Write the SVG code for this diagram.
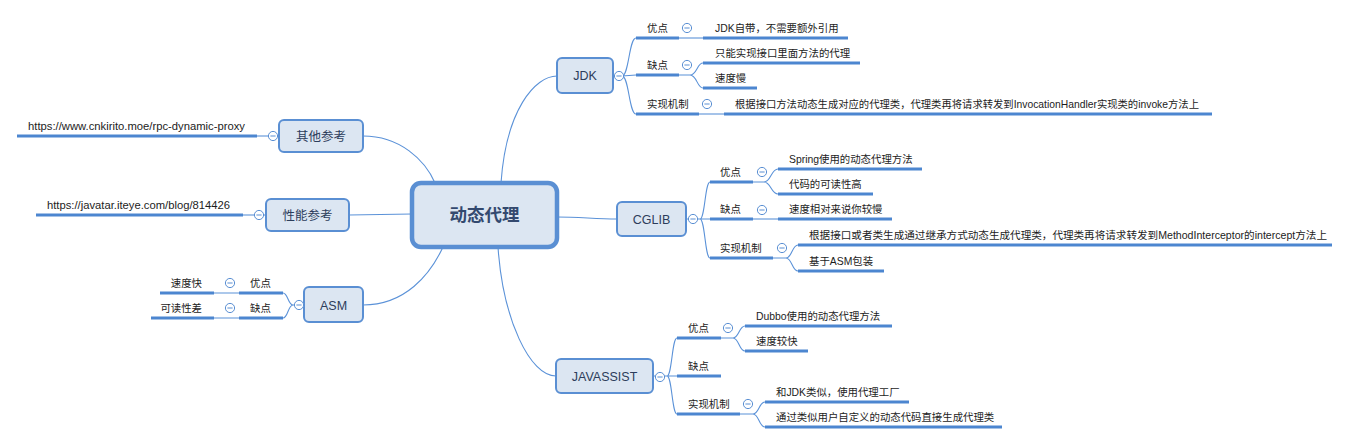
<svg xmlns="http://www.w3.org/2000/svg" xmlns:xlink="http://www.w3.org/1999/xlink" width="1350" height="444" viewBox="0 0 1350 444">
<style>
  .ln{fill:none;stroke:#5b92d8;stroke-width:1.1}
  .ul{fill:none;stroke:#4c86d0;stroke-width:3}
  .node{fill:#dce6f2;stroke:#5a8fd3;stroke-width:2}
  .main{fill:#dce6f2;stroke:#5a8fd3;stroke-width:4.5}
  .t{font-family:"Liberation Sans","Noto Sans CJK SC",sans-serif;font-size:10.4px;fill:#1c1c1c}
  .nt{font-family:"Liberation Sans","Noto Sans CJK SC",sans-serif;font-size:12.5px;fill:#2c3d5b;text-anchor:middle}
  .mt{font-family:"Liberation Sans","Noto Sans CJK SC",sans-serif;font-size:17.5px;font-weight:bold;fill:#33496f;text-anchor:middle}
  .e{text-anchor:end}
  .c circle{fill:#fff;stroke:#5a8fd3;stroke-width:1}
  .c line{stroke:#5a8fd3;stroke-width:1}
</style>
<defs>
  <g id="m" class="c"><circle cx="0" cy="0" r="4.6"/><line x1="-2.6" y1="0" x2="2.6" y2="0"/></g>
</defs>
<rect width="1350" height="444" fill="#fff"/>

<g id="connectors">
  <path class="ln" d="M501,183 C506,110 535,76 557,76"/>
  <path class="ln" d="M557,217 C580,217 595,219 617,219"/>
  <path class="ln" d="M498,247 C503,320 530,376 556,376"/>
  <path class="ln" d="M435,183 C425,160 400,136 363,136"/>
  <path class="ln" d="M412,214 L349,215"/>
  <path class="ln" d="M443,247 C430,275 405,305 363,305"/>

  <path class="ln" d="M613,76 L622,76 C629,76 629,38 636,38 M622,76 L636,75 M622,76 C629,76 629,114 636,114"/>
  <path class="ln" d="M679,38 L703,38"/>
  <path class="ln" d="M679,75 L690,75 C697,75 697,63 703,63 M690,75 C697,75 697,88 703,88"/>
  <path class="ln" d="M699,114 L724,114"/>

  <path class="ln" d="M686,219 L700,219 C705,219 705,182 710,182 M700,219 L710,219 M700,219 C705,219 705,258 710,258"/>
  <path class="ln" d="M753,182 L764,182 C771,182 771,169 778,169 M764,182 C771,182 771,194 778,194"/>
  <path class="ln" d="M753,219 L778,219"/>
  <path class="ln" d="M773,258 L786,258 C792,258 792,245 798,245 M786,258 C792,258 792,271 798,271"/>

  <path class="ln" d="M653,376 L667,376 C672,376 672,338 677,338 M667,376 L677,376 M667,376 C672,376 672,414 677,414"/>
  <path class="ln" d="M721,338 L733,338 C739,338 739,326 745,326 M733,338 C739,338 739,351 745,351"/>
  <path class="ln" d="M740,414 L753,414 C759,414 759,402 765,402 M753,414 C759,414 759,427 765,427"/>

  <path class="ln" d="M279,136 L257,136"/>
  <path class="ln" d="M266,215 L243,215"/>
  <path class="ln" d="M304,305 L293,305 C288,305 288,293 283,293 M293,305 C288,305 288,318 283,318"/>
  <path class="ln" d="M239,293 L214,293 M239,318 L214,318"/>
</g>

<g id="center">
  <rect class="main" x="412" y="183" width="145" height="64" rx="9"/>
  <text class="mt" x="484.5" y="221">动态代理</text>
</g>

<g id="jdk">
  <rect class="node" x="557" y="58" width="56" height="35" rx="5"/>
  <text class="nt" x="585" y="80">JDK</text>
  <use xlink:href="#m" x="619" y="76"/>
</g>
<g id="jdk-pros">
  <path class="ul" d="M636,38 H679"/>
  <text class="t" x="647" y="32">优点</text>
  <use xlink:href="#m" x="687" y="28"/>
  <path class="ul" d="M703,38 H848"/>
  <text class="t" x="715" y="32">JDK自带，不需要额外引用</text>
</g>
<g id="jdk-cons">
  <path class="ul" d="M636,75 H679"/>
  <text class="t" x="647" y="69">缺点</text>
  <use xlink:href="#m" x="687" y="65"/>
  <path class="ul" d="M703,63 H860"/>
  <text class="t" x="715" y="57">只能实现接口里面方法的代理</text>
  <path class="ul" d="M703,88 H757"/>
  <text class="t" x="715" y="82">速度慢</text>
</g>
<g id="jdk-impl">
  <path class="ul" d="M636,114 H699"/>
  <text class="t" x="647" y="108">实现机制</text>
  <use xlink:href="#m" x="707" y="104"/>
  <path class="ul" d="M724,114 H1212"/>
  <text class="t" x="735" y="108" textLength="464" lengthAdjust="spacingAndGlyphs">根据接口方法动态生成对应的代理类，代理类再将请求转发到InvocationHandler实现类的invoke方法上</text>
</g>

<g id="cglib">
  <rect class="node" x="617" y="202" width="69" height="34" rx="5"/>
  <text class="nt" x="651.5" y="224">CGLIB</text>
  <use xlink:href="#m" x="693" y="219"/>
</g>
<g id="cglib-pros">
  <path class="ul" d="M710,182 H753"/>
  <text class="t" x="720" y="176">优点</text>
  <use xlink:href="#m" x="762" y="172"/>
  <path class="ul" d="M778,169 H922"/>
  <text class="t" x="789" y="163">Spring使用的动态代理方法</text>
  <path class="ul" d="M778,194 H873"/>
  <text class="t" x="789" y="188">代码的可读性高</text>
</g>
<g id="cglib-cons">
  <path class="ul" d="M710,219 H753"/>
  <text class="t" x="720" y="213">缺点</text>
  <use xlink:href="#m" x="762" y="210"/>
  <path class="ul" d="M778,219 H892"/>
  <text class="t" x="789" y="213">速度相对来说你较慢</text>
</g>
<g id="cglib-impl">
  <path class="ul" d="M710,258 H773"/>
  <text class="t" x="720" y="252">实现机制</text>
  <use xlink:href="#m" x="782" y="248"/>
  <path class="ul" d="M798,245 H1332"/>
  <text class="t" x="809" y="239" textLength="518" lengthAdjust="spacingAndGlyphs">根据接口或者类生成通过继承方式动态生成代理类，代理类再将请求转发到MethodInterceptor的intercept方法上</text>
  <path class="ul" d="M798,271 H884"/>
  <text class="t" x="809" y="265">基于ASM包装</text>
</g>

<g id="javassist">
  <rect class="node" x="556" y="359" width="97" height="34" rx="5"/>
  <text class="nt" x="604.5" y="381">JAVASSIST</text>
  <use xlink:href="#m" x="660" y="377"/>
</g>
<g id="javassist-pros">
  <path class="ul" d="M677,338 H721"/>
  <text class="t" x="688" y="332">优点</text>
  <use xlink:href="#m" x="728" y="328"/>
  <path class="ul" d="M745,326 H892"/>
  <text class="t" x="756" y="320">Dubbo使用的动态代理方法</text>
  <path class="ul" d="M745,351 H808"/>
  <text class="t" x="756" y="345">速度较快</text>
</g>
<g id="javassist-cons">
  <path class="ul" d="M677,376 H721"/>
  <text class="t" x="688" y="370">缺点</text>
</g>
<g id="javassist-impl">
  <path class="ul" d="M677,414 H740"/>
  <text class="t" x="688" y="408">实现机制</text>
  <use xlink:href="#m" x="748" y="404"/>
  <path class="ul" d="M765,402 H909"/>
  <text class="t" x="776" y="396">和JDK类似，使用代理工厂</text>
  <path class="ul" d="M765,427 H1002"/>
  <text class="t" x="776" y="421">通过类似用户自定义的动态代码直接生成代理类</text>
</g>

<g id="other-ref">
  <rect class="node" x="279" y="120" width="84" height="32" rx="5"/>
  <text class="nt" x="321" y="140.5">其他参考</text>
  <use xlink:href="#m" x="273" y="136"/>
  <path class="ul" d="M17,136 H257"/>
  <text class="t" x="28" y="130" textLength="217" lengthAdjust="spacingAndGlyphs">https://www.cnkirito.moe/rpc-dynamic-proxy</text>
</g>

<g id="perf-ref">
  <rect class="node" x="266" y="199" width="83" height="32" rx="5"/>
  <text class="nt" x="307.5" y="219.5">性能参考</text>
  <use xlink:href="#m" x="259" y="215"/>
  <path class="ul" d="M36,215 H243"/>
  <text class="t" x="47" y="209" textLength="183" lengthAdjust="spacingAndGlyphs">https://javatar.iteye.com/blog/814426</text>
</g>

<g id="asm">
  <rect class="node" x="304" y="287" width="59" height="35" rx="5"/>
  <text class="nt" x="333.5" y="309.5">ASM</text>
  <use xlink:href="#m" x="299" y="305"/>
</g>
<g id="asm-pros">
  <path class="ul" d="M239,293 H283"/>
  <text class="t" x="250" y="287">优点</text>
  <use xlink:href="#m" x="230" y="283"/>
  <path class="ul" d="M160,293 H214"/>
  <text class="t e" x="202" y="287">速度快</text>
</g>
<g id="asm-cons">
  <path class="ul" d="M239,318 H283"/>
  <text class="t" x="250" y="312">缺点</text>
  <use xlink:href="#m" x="230" y="308"/>
  <path class="ul" d="M151,318 H214"/>
  <text class="t e" x="202" y="312">可读性差</text>
</g>
</svg>
